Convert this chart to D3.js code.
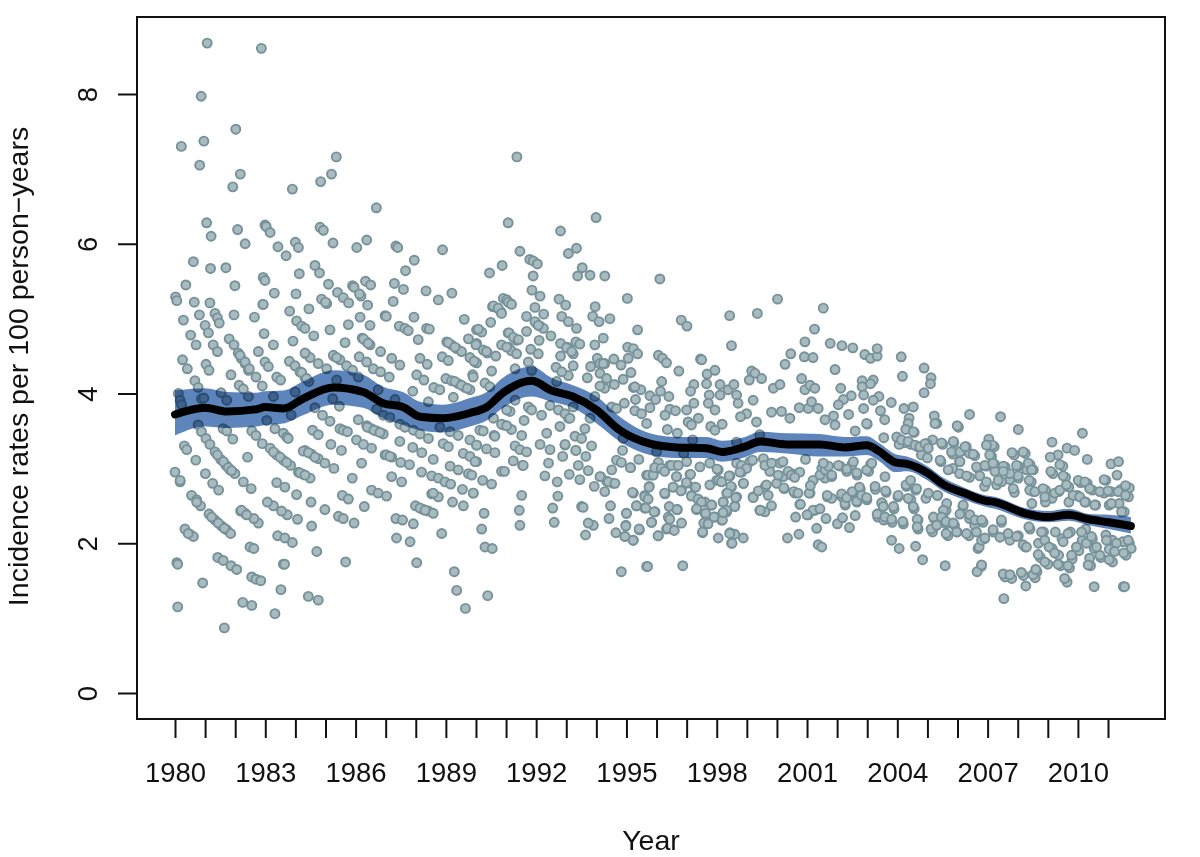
<!DOCTYPE html>
<html>
<head>
<meta charset="utf-8">
<script src="https://cdn.jsdelivr.net/npm/d3@7/dist/d3.min.js"></script>
<style>
  html, body { margin: 0; padding: 0; background: #fff; }
  text { font-family: "Liberation Sans", Arial, sans-serif; fill: #111; }
</style>
</head>
<body>
<div id="chart"></div>
<script>
// Chart data
var xTicks = d3.range(1980, 2012);
var xLabels = [1980, 1983, 1986, 1989, 1992, 1995, 1998, 2001, 2004, 2007, 2010];
var yTicks = [0, 2, 4, 6, 8];

// smoothed rate and its confidence band
var lineYears = [1980,1981,1981.72,1982.71,1982.99,1983.6,1984.25,1985.26,1986.25,1986.91,1987.57,1988.14,1988.9,1989.8,1990.36,1990.9,1991.85,1992.51,1993.22,1994.01,1994.78,1995.78,1996.67,1997.66,1998.18,1998.94,1999.44,2000.32,2001.43,2002.26,2002.99,2003.39,2003.94,2004.32,2005,2005.55,2006.23,2006.91,2007.24,2008.24,2009.02,2009.69,2010.37,2011.03,2011.76];
var lineRates = [3.72,3.81,3.76,3.79,3.82,3.80,3.93,4.08,4.02,3.87,3.82,3.69,3.67,3.74,3.82,4.01,4.17,4.04,3.96,3.78,3.51,3.33,3.28,3.27,3.22,3.29,3.36,3.32,3.32,3.28,3.31,3.23,3.08,3.06,2.94,2.78,2.67,2.57,2.55,2.40,2.35,2.38,2.32,2.28,2.23];
var bandUpper = [4.04,4.07,4.02,4.01,4.03,4.04,4.16,4.31,4.25,4.09,4.02,3.89,3.85,3.94,4.02,4.21,4.36,4.21,4.11,3.96,3.69,3.47,3.42,3.42,3.37,3.42,3.49,3.47,3.46,3.42,3.43,3.34,3.19,3.16,3.03,2.87,2.74,2.64,2.62,2.47,2.43,2.46,2.39,2.38,2.35];
var bandLower = [3.44,3.56,3.54,3.56,3.58,3.60,3.71,3.85,3.81,3.67,3.58,3.51,3.48,3.56,3.64,3.81,3.96,3.89,3.81,3.60,3.36,3.18,3.14,3.14,3.09,3.15,3.22,3.20,3.16,3.16,3.18,3.10,2.95,2.96,2.84,2.69,2.58,2.49,2.46,2.32,2.28,2.30,2.24,2.19,2.13];

// scatter points as [year, rate]
var dotsTop = [[1981.07,8.68],[1982.87,8.61],[1980.87,7.97],[1982.02,7.53],[1980.96,7.37],[1980.21,7.30],[1980.82,7.05],[1982.17,6.93],[1981.92,6.76],[1985.36,7.16],[1985.2,6.93],[1984.84,6.83],[1983.9,6.73],[1986.69,6.48],[1981.05,6.28],[1981.2,6.1],[1982.08,6.19],[1982.33,6.0],[1982.99,6.25],[1983.03,6.23],[1983.16,6.15],[1983.42,5.96],[1983.69,5.84],[1984,6.02],[1984.1,5.95],[1984.82,6.22],[1984.93,6.18],[1985.25,6.01],[1986.04,5.95],[1986.37,6.05],[1987.34,5.97],[1987.4,5.95],[1988.89,5.92],[1987.95,5.78],[1987.66,5.64],[1980.61,5.76],[1981.18,5.67],[1981.69,5.68],[1980.36,5.45],[1981.99,5.44],[1982.93,5.55],[1982.99,5.51],[1984.65,5.71],[1984.8,5.61],[1984.13,5.6],[1983.3,5.34],[1984.02,5.33],[1985.1,5.46],[1985.4,5.35],[1985.59,5.28],[1985.77,5.21],[1985.9,5.44],[1985.95,5.42],[1986.33,5.5],[1986.5,5.45],[1986.18,5.3],[1986.13,5.33],[1987.29,5.47],[1987.59,5.39],[1988.34,5.37],[1988.75,5.25],[1989.2,5.34],[1987.25,5.23],[1980.02,5.29],[1980.06,5.24],[1980.64,5.22],[1981.16,5.21],[1982.92,5.19],[1984.87,5.26],[1985.04,5.2],[1985.0,5.22],[1986.4,5.18]];
var dotsEarly = [[1980.28,4.98],[1980.81,5.05],[1981.33,5.07],[1981.41,5.01],[1981.47,4.94],[1981.96,5.05],[1982.64,5.02],[1982.93,5.19],[1983.81,5.10],[1984.45,5.13],[1984.04,4.97],[1984.21,4.90],[1984.32,4.87],[1981,4.91],[1981.11,4.81],[1980.52,4.78],[1980.7,4.65],[1982.96,4.80],[1983.27,4.65],[1983.92,4.70],[1984.61,4.77],[1985.15,4.85],[1985.76,4.92],[1985.65,4.68],[1986.48,4.91],[1986.15,5.02],[1986.98,5.04],[1987.02,5.03],[1987.45,4.90],[1987.64,4.87],[1987.75,4.84],[1987.94,5.02],[1988.36,4.87],[1988.45,4.86],[1988.08,4.72],[1989.61,4.99],[1990.02,4.85],[1989.75,4.73],[1990.02,4.67],[1981.27,4.65],[1981.41,4.56],[1981.8,4.73],[1981.96,4.65],[1982.1,4.54],[1982.2,4.47],[1982.33,4.40],[1982.44,4.31],[1982.77,4.56],[1982.99,4.42],[1983.1,4.36],[1980.25,4.45],[1980.41,4.33],[1981.03,4.39],[1981.13,4.31],[1981.86,4.25],[1982.69,4.22],[1982.13,4.11],[1982.27,4.06],[1983.38,4.22],[1983.51,4.18],[1982.9,4.10],[1980.66,4.17],[1980.77,4.08],[1983.8,4.43],[1983.99,4.37],[1984.15,4.29],[1984.32,4.21],[1984.45,4.16],[1984.34,4.53],[1984.49,4.48],[1984.76,4.40],[1985.04,4.33],[1985.28,4.50],[1985.48,4.45],[1985.7,4.37],[1985.9,4.31],[1986.12,4.49],[1986.37,4.42],[1986.59,4.33],[1986.83,4.29],[1987.12,4.22],[1986.22,4.74],[1986.37,4.69],[1986.48,4.65],[1986.83,4.56],[1987.2,4.47],[1987.47,4.38],[1988.14,4.47],[1988.38,4.39],[1988.03,4.25],[1988.27,4.18],[1987.9,4.03],[1989.03,4.69],[1989.19,4.65],[1989.36,4.60],[1989.52,4.56],[1988.88,4.49],[1989.08,4.44],[1989.8,4.48],[1990.02,4.41],[1989.89,4.25],[1988.6,4.08],[1988.8,4.05],[1989,4.20],[1989.19,4.17],[1989.41,4.13],[1989.63,4.08],[1989.8,4.05],[1989.25,3.95],[1988.42,3.89],[1980.11,4],[1980.88,3.93],[1980.96,3.94],[1981.53,4.01],[1981.72,3.91],[1982.44,3.96],[1983.27,3.96],[1983.99,4.02],[1985.37,4.18],[1986.09,4.22],[1986.75,4.05],[1987.31,3.92],[1980.17,3.91],[1980.22,3.85],[1980.77,3.58],[1980.88,3.49],[1981.03,3.40],[1981.16,3.32],[1981.6,3.53],[1981.72,3.50],[1981.92,3.39],[1982.55,3.50],[1982.69,3.44],[1982.9,3.33],[1983.05,3.64],[1983.32,3.53],[1983.6,3.47],[1983.71,3.42],[1983.76,3.40],[1983.86,3.71],[1984.65,3.81],[1984.9,3.71],[1985.15,3.63],[1985.46,3.83],[1985.24,3.93],[1984.57,3.51],[1984.76,3.45],[1985.48,3.53],[1985.59,3.51],[1985.73,3.49],[1986.09,3.65],[1986.37,3.57],[1986.53,3.53],[1986.7,3.50],[1986.92,3.46],[1986.7,3.79],[1986.92,3.71],[1987.14,3.68],[1987.47,3.59],[1987.64,3.55],[1987.92,3.51],[1988.14,3.46],[1988.42,3.40],[1988.8,3.55],[1989.14,3.49],[1989.41,3.44],[1989.8,3.38],[1990.02,3.31]];
var dotsEarlyLow = [[1980.31,3.30],[1980.39,3.25],[1980.69,3.11],[1981.33,3.22],[1981.52,3.12],[1981.7,3.04],[1981.83,2.98],[1981.99,2.93],[1982.27,2.82],[1982.53,2.73],[1981.01,2.93],[1981.25,2.80],[1981.45,2.71],[1982.41,3.15],[1980,2.95],[1980.17,2.82],[1980.55,2.64],[1980.72,2.58],[1980.85,2.50],[1981.13,2.39],[1981.33,2.31],[1981.55,2.23],[1981.72,2.18],[1981.85,2.13],[1980.33,2.19],[1980.5,2.12],[1980.61,2.09],[1980.06,1.74],[1980.09,1.72],[1980.92,1.47],[1980.09,1.15],[1981.42,1.81],[1981.6,1.77],[1981.86,1.70],[1982.05,1.65],[1982.49,1.95],[1982.62,1.93],[1982.55,1.55],[1982.69,1.52],[1982.85,1.50],[1982.25,1.21],[1982.55,1.17],[1981.64,0.87],[1983.32,1.06],[1983.52,1.38],[1983.6,1.72],[1983.64,1.72],[1983.41,2.10],[1983.65,2.07],[1983.9,2.01],[1984.43,1.29],[1984.76,1.24],[1984.71,1.89],[1985.67,1.75],[1984.54,2.23],[1984.07,2.32],[1983.73,2.38],[1983.54,2.43],[1983.27,2.50],[1983.07,2.55],[1982.77,2.27],[1982.62,2.33],[1982.33,2.40],[1982.18,2.43],[1983.38,2.81],[1983.65,2.75],[1984.04,2.65],[1984.52,2.55],[1984.98,2.45],[1985.43,2.36],[1985.59,2.33],[1985.95,2.27],[1986.29,2.49],[1985.56,2.64],[1985.76,2.59],[1985.89,2.87],[1986.2,3.07],[1985.53,3.24],[1985.18,3.32],[1984.32,3.24],[1984.54,3.19],[1984.76,3.13],[1984.98,3.07],[1985.28,3],[1983.16,3.27],[1983.38,3.18],[1983.6,3.11],[1983.84,3.04],[1984.1,2.95],[1984.27,2.92],[1984.49,2.87],[1986.53,3.27],[1986.03,3.38],[1986.26,3.32],[1986.98,3.18],[1987.2,3.15],[1987.5,3.08],[1987.79,3.05],[1987.47,3.36],[1987.9,3.28],[1988.2,3.21],[1988.58,3.12],[1987.2,2.89],[1987.53,2.82],[1988.19,2.95],[1988.53,2.90],[1988.75,2.87],[1988.97,2.82],[1989.16,2.79],[1989.14,3.03],[1989.41,2.98],[1989.75,2.93],[1988.91,3.33],[1989.08,3.29],[1989.58,3.2],[1989.8,3.16],[1990.02,3.09],[1989.55,2.72],[1989.91,2.67],[1988.53,2.66],[1988.75,2.62],[1989.22,2.55],[1989.58,2.50],[1986.53,2.71],[1986.75,2.67],[1987.03,2.63],[1987.99,2.50],[1988.25,2.45],[1988.42,2.43],[1988.58,2.40],[1987.34,2.33],[1987.56,2.31],[1987.92,2.26],[1988.86,2.13],[1987.36,2.07],[1987.81,2.02],[1988.03,1.74],[1989.28,1.62],[1989.36,1.37],[1989.65,1.13]];
var dotsEarlyExtra = [[1982.16,4.51],[1982.33,4.42],[1982.47,4.33],[1981.41,3.18],[1981.61,3.09],[1981.77,3.01],[1981.88,2.97],[1981.22,2.35],[1981.44,2.27],[1981.64,2.20],[1983.27,3.22],[1983.49,3.15],[1983.71,3.08],[1986.39,3.55],[1986.61,3.51],[1986.81,3.48],[1989.3,4.16],[1989.52,4.11],[1989.71,4.07],[1984.21,4.28],[1984.37,4.2],[1985.26,4.51],[1985.37,4.48],[1986.26,4.73],[1986.42,4.67],[1984.32,4.54],[1987.03,3.18],[1987.14,3.16],[1984.26,3.23],[1984.43,3.21],[1984.65,3.15],[1984.15,2.94],[1984.32,2.91],[1982.21,2.44],[1982.38,2.38],[1988.58,2.67],[1988.14,2.47],[1988.31,2.44],[1989.08,4.68],[1989.3,4.62],[1980.17,2.84],[1980.72,2.55],[1980.44,2.13]];
var dotsMiddle = [[1991.36,7.16],[1991.07,6.28],[1992.81,6.17],[1993.99,6.35],[1991.46,5.90],[1991.79,5.79],[1991.9,5.77],[1992.04,5.73],[1990.87,5.71],[1990.45,5.61],[1991.9,5.57],[1993.07,5.87],[1993.34,5.94],[1993.53,5.68],[1993.38,5.57],[1993.79,5.58],[1994.28,5.57],[1996.11,5.53],[1991.86,5.38],[1992.13,5.30],[1995.03,5.27],[1990.91,5.27],[1991.02,5.25],[1991.16,5.20],[1990.55,5.16],[1990.71,5.14],[1990.83,5.09],[1992.76,5.26],[1992.98,5.18],[1991.96,5.15],[1992.25,5.06],[1991.68,5.03],[1992.85,5.03],[1993.07,4.96],[1993.34,4.87],[1993.96,5.16],[1993.88,5.03],[1994.09,4.96],[1994.45,5],[1995.37,4.85],[1996.82,4.98],[1997.01,4.90],[1998.43,5.04],[1999.35,5.07],[2000.02,5.26],[2001.25,4.86],[2000.93,4.69],[1998.49,4.64],[1990.49,4.95],[1990.19,4.82],[1991.07,4.81],[1991.35,4.71],[1991.68,4.83],[1992,4.94],[1992.13,4.90],[1992.24,4.87],[1992.49,4.77],[1992.1,4.71],[1990.85,4.65],[1991.07,4.62],[1991.18,4.57],[1991.35,4.53],[1990,4.65],[1990.24,4.58],[1990.38,4.54],[1990.66,4.50],[1991.82,4.59],[1992.07,4.53],[1992.81,4.67],[1993.03,4.62],[1993.23,4.53],[1993.32,4.69],[1993.45,4.66],[1992.81,4.50],[1994.23,4.74],[1993.95,4.65],[1995.04,4.62],[1995.23,4.60],[1995.37,4.53],[1995.06,4.47],[1996.06,4.51],[1996.2,4.47],[1996.33,4.41],[1997.46,4.46],[1997.5,4.45],[2000.46,4.53],[2000.91,4.49],[2001.2,4.48],[2000.27,4.39],[1989.94,4.43],[1990.52,4.30],[1991.3,4.33],[1991.74,4.42],[1992.66,4.35],[1993.23,4.37],[1993.07,4.24],[1993.7,4.21],[1993.81,4.36],[1994.03,4.47],[1994.12,4.40],[1994.28,4.40],[1994.58,4.46],[1994.82,4.38],[1994.12,4.27],[1994.34,4.2],[1994.28,4.07],[1994.6,4.12],[1994.89,4.19],[1995.15,4.28],[1996.74,4.30],[1997.68,4.26],[1997.94,4.31],[1997.66,4.13],[1999.16,4.30],[1999.27,4.27],[1999.49,4.20],[1999.08,4.18],[1998.11,4.12],[1998.38,4.05],[1998.57,4.12],[1998.66,3.98],[1997.24,4.12],[1997.13,4.03],[1996.17,4.16],[1996.13,4.03],[1996.41,3.96],[1995.23,4.08],[1995.48,4.05],[1995.3,3.92],[1995.78,3.97],[1995.97,3.92],[1995.78,3.81],[1994.93,3.87],[1997.75,3.98],[1998.11,3.98],[1997.72,3.87],[1997.94,3.78],[1997.24,3.87],[1997,3.78],[1996.44,3.79],[1996.63,3.77],[1996.28,3.71],[1995.28,3.77],[1995.5,3.73],[1999.21,3.91],[1998.71,3.87],[1999.88,4.07],[2000.1,4.12],[2000.82,4.2],[2000.93,4.05],[2001.1,4.11],[2001.26,4.07],[2000.74,3.81],[2001.04,3.80],[2001.15,3.89],[2001.37,3.80],[1999.82,3.75],[2000.15,3.76],[2000.43,3.67],[1998.99,3.73],[1998.79,3.69],[1999.32,3.62],[1997.05,3.62],[1997.39,3.67],[1997.16,3.58],[1997.8,3.56],[1998.18,3.59],[1997.94,3.51],[1996.36,3.52],[1996.69,3.47],[1995.67,3.60],[1994.51,3.82],[1994.67,3.80],[1993.62,3.53],[1992.79,3.56],[1993.07,3.67],[1992.18,3.71],[1991.79,3.8],[1991.6,3.64],[1992.35,3.47],[1991.52,3.44],[1991.18,3.52],[1990.91,3.58],[1990.13,3.51],[1990.58,3.67],[1990.6,3.44],[1991.85,4.31],[1992.68,4.16],[1993.23,3.82],[1993.95,3.96],[1991.3,3.91],[1993.79,3.67],[1994.89,3.4],[1996,3.22],[1997.2,3.38],[1998.66,3.35],[1999.43,3.45],[1996.9,3.2]];
var dotsMiddleLow = [[1993.29,3.43],[1993.51,3.40],[1993.84,3.30],[1992.13,3.32],[1992.46,3.25],[1992.96,3.31],[1991.3,3.3],[1991.46,3.25],[1991.68,3.22],[1990.02,3.31],[1990.35,3.26],[1990.63,3.21],[1993.32,3.24],[1993.65,3.16],[1992.88,3.16],[1995.41,3.12],[1994.87,3.24],[1994.67,3.11],[1995.14,3.01],[1991.24,3.10],[1991.55,3.04],[1989.97,3.09],[1992.41,3.07],[1993.4,3.04],[1993.73,2.97],[1990.85,2.96],[1990.95,2.96],[1992.29,2.9],[1993.1,2.92],[1992.7,2.82],[1993.45,2.85],[1990.22,2.84],[1990.52,2.79],[1989.86,2.91],[1994.51,2.98],[1994.14,2.89],[1994.34,2.83],[1994.56,2.8],[1993.93,2.76],[1989.91,2.67],[1994.28,2.69],[1992.72,2.63],[1991.52,2.64],[1995.23,2.67],[1995.61,2.64],[1995.76,2.76],[1995.84,2.91],[1995.67,2.91],[1996.06,3],[1996.28,2.98],[1996.67,2.89],[1996.28,2.66],[1996.56,2.75],[1996.83,2.71],[1997,2.80],[1997.11,2.92],[1997.27,2.75],[1997.16,2.64],[1997.39,2.58],[1997.77,2.78],[1998.05,2.98],[1998,2.84],[1998.44,2.90],[1998.49,2.75],[1998.33,2.67],[1998.66,2.62],[1998.22,2.55],[1998.6,2.50],[1997.83,2.51],[1997.61,2.55],[1997.33,2.45],[1997.61,2.40],[1998.33,2.42],[1998.16,2.31],[1997.94,2.35],[1997.68,2.27],[1998.88,2.80],[1998.83,2.95],[1999.6,2.75],[1999.82,3.07],[1999.71,2.64],[1999.21,2.62],[1999.43,2.44],[1999.6,2.42],[1999.82,2.5],[1999.99,2.8],[2000.24,2.73],[2000.49,2.93],[2000.76,2.95],[2000.21,2.89],[2000.6,2.67],[2000.76,2.52],[2001.1,2.67],[2001.2,2.84],[2001.04,2.38],[2001.26,2.44],[2000.62,2.35],[2001.32,2.2],[2001.37,1.98],[2000.73,2.12],[2000.35,2.07],[1998.88,2.07],[1998.6,2.12],[1998.44,2.14],[1998.49,2],[1998.05,2.07],[1997.53,2.14],[1996.83,2.27],[1996.56,2.18],[1996.33,2.19],[1996.06,2.1],[1996.42,2.49],[1996.69,2.45],[1996.42,2.33],[1995.95,2.42],[1995.84,2.28],[1995.61,2.47],[1995.34,2.5],[1995,2.4],[1994.98,2.24],[1995.43,2.18],[1995.23,2.04],[1994.95,2.09],[1994.65,2.14],[1994.47,2.5],[1994.42,2.33],[1993.9,2.24],[1993.73,2.27],[1993.64,2.11],[1993.51,2.49],[1993.56,2.48],[1992.55,2.47],[1992.6,2.28],[1991.44,2.44],[1991.46,2.24],[1990.27,2.4],[1990.19,2.19],[1990.3,1.95],[1990.54,1.93],[1990.39,1.30],[1994.83,1.62],[1995.67,1.69],[1995.7,1.69],[1996.87,1.70],[1996.44,3.04],[1996.65,3.04],[1997,3.09],[1997.44,3.02],[1997.77,3.07],[1998.66,3.07],[1999.1,3.09],[1999.55,3.13],[2000.1,3.07],[1996.06,3.08]];
var dotsMiddleExtra = [[1994.83,3.08],[1995.13,3.01],[1995.72,2.91],[1995.89,2.91],[1995.94,3.01],[1996.16,3],[1996.27,2.96],[1996.66,2.89],[1996.5,3.04],[1996.72,3.04],[1997.13,2.92],[1996.99,2.81],[1996.55,2.75],[1996.81,2.70],[1996.27,2.67],[1995.75,2.75],[1995.2,2.68],[1995.61,2.62],[1995.72,2.59],[1995.33,2.5],[1995.64,2.47],[1995.92,2.42],[1995,2.4],[1995.83,2.28],[1994.98,2.23],[1995.42,2.19],[1994.95,2.09],[1995.22,2.04],[1996.05,2.1],[1996.68,2.45],[1996.39,2.35],[1996.44,2.32],[1996.36,2.2],[1996.59,2.17],[1997.16,2.63],[1997.3,2.75],[1997.38,2.59],[1997.49,2.55],[1997.33,2.46],[1997.83,2.51],[1997.63,2.4],[1997.91,2.35],[1997.57,2.27],[1997.71,2.26],[1997.53,2.15],[1998.19,2.31],[1998.01,2.99],[1998.07,2.84],[1998.16,2.82],[1998.41,2.9],[1998.47,2.76],[1998.35,2.67],[1998.21,2.55],[1998.63,2.61],[1998.6,2.49],[1998.32,2.44],[1998.21,2.41],[1998.43,2.13],[1998.51,2],[1998.89,2.8],[1998.82,3.04],[1998.99,3],[1998.77,2.95],[1999.19,3.11],[1999.21,2.61],[1999.38,2.70],[1999.65,2.78],[1999.76,2.96],[1999.6,3.04],[1999.82,3.07],[1999.45,2.44],[2000.04,2.91],[2000.2,3.09],[2000.23,2.74],[2000.37,2.96],[2000.48,2.91],[2000.59,2.88],[2000.95,3.12],[2000.56,2.69],[2000.7,2.67],[2001.07,2.67],[2001.11,2.77],[2000.78,2.52],[2001.2,2.44],[2001,2.38],[1990.58,5.17],[1990.74,5.14],[1990.85,5.07],[1991.07,5.22],[1991.18,5.19],[1990.08,4.86],[1991.96,4.96],[1992.07,4.91],[1991.1,4.81],[1991.24,4.75],[1991.41,4.72],[1990.35,4.56],[1991.02,4.62],[1993.01,4.61],[1993.18,4.56],[1989.91,4.22],[1990.3,4.14],[1990.46,4.09],[1992.85,4.29],[1994.23,4.4],[1994.12,4.1],[1995.28,4.09],[1991.13,3.76],[1991.02,3.78],[1991.74,3.82],[1991.85,3.78],[1992.46,3.84],[1992.74,3.78],[1992.96,3.73],[1993.12,3.67],[1990.85,3.59],[1991.02,3.57],[1990.24,3.5],[1990.63,3.43],[1992.96,3.32],[1993.32,3.24],[1991.57,3.04],[1994.12,2.89],[1994.4,2.82],[1994.62,2.8]];
var dotsLateUpper = [[2001.54,5.14],[2001.77,4.67],[2002.16,4.64],[2002.52,4.61],[2002.92,4.52],[2003.11,4.47],[2003.33,4.5],[2003.33,4.60],[2004.13,4.49],[2004.17,4.23],[2001.93,4.32],[2004.89,4.34],[2005.12,4.21],[2005.1,4.13],[2004.89,4.01],[2002.83,4.17],[2003.2,4.18],[2003.11,4.13],[2002.83,4.09],[2002.12,4.07],[2002.47,3.97],[2002.21,3.92],[2002.88,3.98],[2003.39,3.96],[2003.2,3.91],[2002.04,3.85],[2002.88,3.80],[2003.8,3.88],[2003.44,3.77],[2003.58,3.65],[2004.22,3.80],[2004.53,3.82],[2004.39,3.67],[2004.36,3.6],[2004.28,3.52],[2004.56,3.48],[2005.23,3.70],[2005.31,3.60],[2006.4,3.72],[2006.03,3.55],[2007.43,3.69],[2008.02,3.52],[2010.15,3.47],[2009.14,3.35],[2009.64,3.27],[2009.89,3.24],[2009.34,3.18],[2009.08,3.15],[2010.31,3.12],[2011.1,3.06],[2011.35,3.09],[2011.3,2.91],[2009.5,3.03],[2009.17,2.93],[2009.59,2.88],[2007.04,3.39],[2007,3.31],[2007.22,3.29],[2007.88,3.18],[2008.25,3.2],[2005.88,3.34],[2005.51,3.32],[2006.29,3.29],[2005.84,3.19],[2006.12,3.23],[2006.4,3.2],[2006.57,3.17],[2005.17,3.38],[2004.98,3.33],[2004.67,3.29],[2004,3.41],[2004.22,3.34],[2004.45,3.32],[2004.06,3.32],[2004.8,3.18],[2005,3.14],[2003.55,3.41],[2003,3.59],[2002.6,3.5],[2002.38,3.72],[2001.88,3.7],[2001.6,3.65],[2007.13,3.16],[2006.68,3],[2006.96,3.03],[2007.24,3.05],[2007.58,3.02],[2008.02,3.03],[2008.41,3.05],[2008.52,2.98],[2005.45,3.09],[2006.07,3.09],[2005.84,3],[2006.07,2.93],[2006.4,2.88],[2006.74,2.90],[2007.24,2.96],[2007.74,2.85],[2008.02,2.87],[2008.3,2.98],[2008.45,2.82],[2006.9,2.76],[2007.3,2.78],[2007.46,2.82],[2007.89,2.68],[2008.52,2.69],[2008.92,2.71],[2009.36,2.69],[2009.7,2.75],[2010.09,2.81],[2010.31,2.8],[2010.93,2.84],[2010.48,2.71],[2009.98,2.64],[2010.87,2.67],[2011.1,2.69],[2011.43,2.72],[2011.71,2.74],[2011.68,2.62],[2011.37,2.53],[2010.59,2.51],[2010.26,2.55],[2009.7,2.55],[2009.14,2.6],[2008.47,2.53],[2008.92,2.55],[2011.04,2.51],[2011.54,2.42]];
var dotsLateLower = [[2011.71,2],[2011.49,2.02],[2011.15,2.04],[2011.77,1.93],[2011.6,1.84],[2011.15,1.75],[2010.76,1.81],[2011.04,1.92],[2010.48,2.06],[2010.54,1.93],[2010.42,1.70],[2010.54,1.42],[2011.51,1.42],[2011.55,1.42],[2009.64,1.48],[2008.64,1.62],[2008.58,1.54],[2008.27,1.43],[2008.19,1.57],[2007.8,1.53],[2007.58,1.55],[2007.54,1.26],[2006.79,1.69],[2006.65,1.62],[2005.59,1.70],[2004.84,1.78],[2004.61,1.96],[2004.06,1.93],[2003.81,2.04],[2002.41,2.21],[2002.01,2.26],[2002.18,2.34],[2001.63,2.33],[2002.6,2.37],[2001.49,1.95],[2003.35,2.35],[2003.55,2.31],[2003.83,2.28],[2004.2,2.26],[2003.89,2.46],[2003.5,2.53],[2003.27,2.72],[2003.63,2.68],[2004.02,2.62],[2004.45,2.58],[2004.3,2.76],[2004.61,2.71],[2004.95,2.6],[2004.56,2.46],[2004.69,2.31],[2004.69,2.19],[2005.17,2.15],[2005.23,2.33],[2005.62,2.44],[2005.51,2.37],[2005.62,2.26],[2005.9,2.24],[2005.68,2.1],[2005.99,2.15],[2005.34,2.64],[2006.18,2.49],[2006.4,2.33],[2006.57,2.24],[2006.38,2.1],[2006.68,1.93],[2006.72,1.95],[2006.9,2.06],[2006.85,2.28],[2007.19,2.15],[2007.46,2.28],[2007.41,2.08],[2007.74,2.04],[2008.02,2.1],[2008.41,2.19],[2008.25,1.95],[2008.69,2],[2008.75,1.81],[2009.14,1.93],[2009,1.72],[2009.42,1.70],[2009.72,1.67],[2010.03,1.9],[2009.81,1.79],[2009.36,1.84],[2008.86,2.15],[2009.25,2.15],[2009.75,2.15],[2010.26,2.19],[2010.93,2.11],[2009.47,2.06],[2010.14,2.04],[2001.6,2.87],[2001.82,2.89],[2001.49,3],[2002.1,3.03],[2002.49,3.05],[2003.11,3.05],[2002.66,2.91],[2003.05,2.96],[2002.32,2.96],[2001.68,2.62],[2001.82,2.6],[2002.16,2.62],[2002.49,2.67],[2002.77,2.72],[2002.99,2.58],[2002.27,2.51],[2002.66,2.55],[2001.43,2.46]];
var dotsLateExtra = [[2001.43,2.91],[2001.6,2.98],[2001.71,3.03],[2001.82,2.91],[2001.54,3.07],[2002.04,3.04],[2002.32,2.99],[2002.54,3.09],[2002.65,2.94],[2002.98,2.98],[2003.15,3.07],[2003.59,2.89],[2001.67,2.64],[2002.15,2.66],[2002.26,2.53],[2002.32,2.61],[2002.5,2.69],[2002.65,2.56],[2002.74,2.75],[2002.81,2.64],[2002.98,2.61],[2003.26,2.76],[2003.61,2.70],[2004.03,2.64],[2004.29,2.78],[2004.44,2.84],[2004.64,2.73],[2004.36,2.6],[2004.53,2.49],[2005.03,2.67],[2005.33,2.64],[2003.48,2.54],[2003.53,2.49],[2003.87,2.49],[2003.33,2.39],[2003.59,2.35],[2003.81,2.32],[2004.18,2.29],[2004.66,2.32],[2004.66,2.22],[2005.2,2.35],[2005.12,2.19],[2005.31,2.24],[2005.62,2.13],[2005.64,2.53],[2005.53,2.44],[2005.47,2.35],[2005.62,2.29],[2005.86,2.27],[2005.97,2.15],[2006.08,2.39],[2006.19,2.51],[2006.3,2.13],[2006.41,2.38],[2006.58,2.31],[2006.63,2.15],[2003.98,3.42],[2004.14,3.38],[2004.36,3.36],[2004.59,3.31],[2004.75,3.29],[2004.92,3.33],[2005.03,3.27],[2005.47,3.34],[2005.86,3.36],[2005.8,3.22],[2006.08,3.22],[2006.25,3.29],[2006.52,3.19],[2005.42,3.11],[2006.08,3.09],[2005.69,2.98],[2006.3,2.9],[2006.63,3.02],[2005.25,3.6],[2005.99,3.57],[2004.53,3.49],[2002.98,3.6],[2001.93,3.58],[2006.91,3.04],[2007.18,3.07],[2007.52,3.03],[2007.96,3.04],[2008.35,3.07],[2008.46,2.98],[2008.01,2.9],[2007.74,2.93],[2007.52,2.96],[2007.35,2.84],[2008.38,2.84],[2006.96,2.82],[2007.85,2.73],[2008.4,2.71],[2008.57,2.69],[2008.84,2.73],[2008.9,2.62],[2009.23,2.67],[2009.4,2.71],[2009.62,2.78],[2010.01,2.84],[2010.23,2.82],[2010.39,2.73],[2009.84,2.64],[2010.06,2.62],[2010.23,2.55],[2010.56,2.51],[2010.87,2.85],[2010.73,2.69],[2011,2.7],[2011.34,2.69],[2011.58,2.77],[2011.58,2.64],[2011.11,2.53],[2011.45,2.42],[2009.4,3.05],[2009.1,2.96],[2009.51,2.9],[2007.81,3.21],[2008.18,3.22],[2007.07,3.18],[2007.16,3.31],[2006.96,3.31],[2006.8,2.31],[2007.18,2.18],[2007.46,2.31],[2007.68,2.13],[2007.96,2.09],[2008.37,2.22],[2008.18,1.98],[2008.29,1.95],[2008.68,1.85],[2008.79,2.15],[2008.9,2.04],[2009.04,1.95],[2008.9,1.75],[2009.23,1.87],[2009.34,1.72],[2009.67,1.7],[2009.79,1.84],[2009.51,2.02],[2009.67,2.13],[2009.95,1.95],[2010.12,2.15],[2010.28,2],[2010.45,2.09],[2010.39,1.8],[2010.34,1.71],[2010.73,1.84],[2011.04,1.78],[2010.95,2.04],[2011.28,2],[2011.52,1.87],[2011.67,2.04],[2011.22,1.89],[2010.62,1.95],[2006.8,1.71],[2006.8,2.04],[2006.91,2.07],[2007.52,1.59],[2007.74,1.58],[2008.12,1.61],[2008.51,1.58],[2008.6,1.65],[2009.56,1.53]];

var allDots = dotsTop.concat(dotsEarly, dotsEarlyLow, dotsEarlyExtra, dotsMiddle, dotsMiddleLow, dotsMiddleExtra, dotsLateUpper, dotsLateLower, dotsLateExtra);

var width = 1200, height = 857;
var box = {left: 137, right: 1165, top: 17, bottom: 719};

var xScale = d3.scaleLinear().domain([1980, 2011]).range([175, 1108]);
var yScale = d3.scaleLinear().domain([0, 8]).range([693, 94]);

var svg = d3.select("#chart").append("svg")
    .attr("width", width)
    .attr("height", height)
    .style("display", "block");

// points go under the band, as in the original
svg.append("g").selectAll("circle")
    .data(allDots)
  .enter().append("circle")
    .attr("cx", function(d) { return xScale(d[0]); })
    .attr("cy", function(d) { return yScale(d[1]); })
    .attr("r", 4.5)
    .attr("fill", "#a8bcbf")
    .attr("stroke", "#76919a")
    .attr("stroke-width", 1.9);

var band = d3.area()
    .x(function(d, i) { return xScale(lineYears[i]); })
    .y0(function(d, i) { return yScale(bandLower[i]); })
    .y1(function(d, i) { return yScale(bandUpper[i]); })
    .curve(d3.curveMonotoneX);

// multiply so the points stay visible in dark blue under the band
svg.append("path")
    .attr("d", band(lineYears))
    .attr("fill", "#5d85bc")
    .style("mix-blend-mode", "multiply");

var line = d3.line()
    .x(function(d, i) { return xScale(lineYears[i]); })
    .y(function(d, i) { return yScale(lineRates[i]); })
    .curve(d3.curveMonotoneX);

svg.append("path")
    .attr("d", line(lineYears))
    .attr("fill", "none")
    .attr("stroke", "#000")
    .attr("stroke-width", 8)
    .attr("stroke-linecap", "round")
    .attr("stroke-linejoin", "round");

// frame
svg.append("rect")
    .attr("x", box.left)
    .attr("y", box.top)
    .attr("width", box.right - box.left)
    .attr("height", box.bottom - box.top)
    .attr("fill", "none")
    .attr("stroke", "#111")
    .attr("stroke-width", 2);

// axes
var xAxis = d3.axisBottom(xScale)
    .tickValues(xTicks)
    .tickSize(19)
    .tickPadding(24)
    .tickSizeOuter(0)
    .tickFormat(function(d) { return xLabels.indexOf(d) >= 0 ? d : ""; });

var yAxis = d3.axisLeft(yScale)
    .tickValues(yTicks)
    .tickSize(19)
    .tickSizeOuter(0);

var gX = svg.append("g")
    .attr("transform", "translate(0," + box.bottom + ")")
    .call(xAxis);

var gY = svg.append("g")
    .attr("transform", "translate(" + box.left + ",0)")
    .call(yAxis);

gX.select(".domain").remove();
gY.select(".domain").remove();
gX.selectAll("line").attr("stroke", "#111").attr("stroke-width", 2);
gY.selectAll("line").attr("stroke", "#111").attr("stroke-width", 2);
gX.selectAll("text").style("font-size", "27.5px").style("font-family", "Liberation Sans");

gY.selectAll("text")
    .attr("x", null)
    .attr("dy", null)
    .attr("text-anchor", "middle")
    .attr("transform", "translate(-40,0) rotate(-90)")
    .style("font-size", "27.5px")
    .style("font-family", "Liberation Sans");

svg.append("text")
    .attr("x", 651)
    .attr("y", 850)
    .attr("text-anchor", "middle")
    .style("font-size", "28.5px")
    .text("Year");

svg.append("text")
    .attr("transform", "translate(28,366.5) rotate(-90)")
    .attr("text-anchor", "middle")
    .style("font-size", "28.5px")
    .text("Incidence rates per 100 person\u2212years");
</script>
</body>
</html>
